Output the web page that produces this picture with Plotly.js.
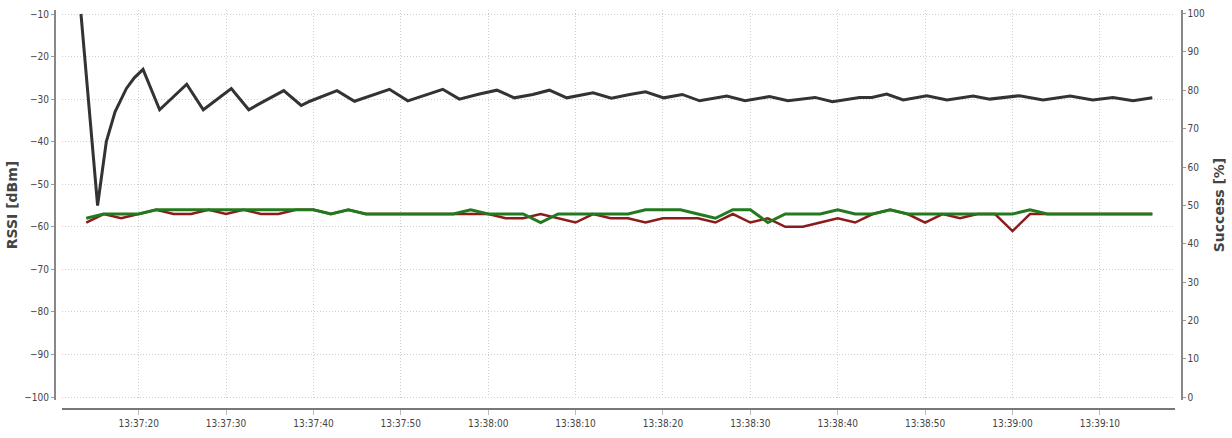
<!DOCTYPE html>
<html>
<head>
<meta charset="utf-8">
<script src="https://cdn.plot.ly/plotly-3.0.1.min.js"></script>
<style>html,body{margin:0;padding:0;background:#fff;}#chart{width:1232px;height:438px;}</style>
</head>
<body>
<div id="chart"></div>
<script>
// Seconds after 13:37:00
const rssiSec = [13.4,15.3,16.3,17.3,18.6,19.5,20.5,22.4,25.5,27.4,30.6,32.6,33.9,36.6,38.6,39.6,42.7,44.7,48.7,50.8,54.8,56.7,59,61,63,65.1,67,69,72,74.1,76.2,78,80.1,82.2,84.2,87.3,89.4,92.2,94.3,95.7,97.4,99.4,102.5,103.9,105.6,107.5,110.2,112.5,115.5,117.4,120.8,123.5,126.6,129.2,131.5,133.8,136];
const rssiBlack = [-10,-55,-40,-33,-27.5,-25,-23,-32.5,-26.5,-32.5,-27.5,-32.5,-31,-28,-31.5,-30.5,-28,-30.5,-27.7,-30.4,-27.7,-30,-28.8,-27.9,-29.7,-28.9,-27.9,-29.7,-28.5,-29.8,-28.9,-28.3,-29.7,-28.9,-30.4,-29.3,-30.4,-29.4,-30.4,-30,-29.6,-30.6,-29.6,-29.6,-28.8,-30.2,-29.2,-30.2,-29.3,-30,-29.2,-30.2,-29.3,-30.2,-29.6,-30.4,-29.7];

const pairSec = [14,16,18,20,22,24,26,28,30,32,34,36,38,40,42,44,46,48,50,52,54,56,58,60,62,64,66,68,70,72,74,76,78,80,82,84,86,88,90,92,94,96,98,100,102,104,106,108,110,112,114,116,118,120,122,124,126,128,130,132,134,136];
const greenVals = [-58,-57,-57,-57,-56,-56,-56,-56,-56,-56,-56,-56,-56,-56,-57,-56,-57,-57,-57,-57,-57,-57,-56,-57,-57,-57,-59,-57,-57,-57,-57,-57,-56,-56,-56,-57,-58,-56,-56,-59,-57,-57,-57,-56,-57,-57,-56,-57,-57,-57,-57,-57,-57,-57,-56,-57,-57,-57,-57,-57,-57,-57];
const redVals = [-59,-57,-58,-57,-56,-57,-57,-56,-57,-56,-57,-57,-56,-56,-57,-56,-57,-57,-57,-57,-57,-57,-57,-57,-58,-58,-57,-58,-59,-57,-58,-58,-59,-58,-58,-58,-59,-57,-59,-58,-60,-60,-59,-58,-59,-57,-56,-57,-59,-57,-58,-57,-57,-61,-57,-57,-57,-57,-57,-57,-57,-57];

const leftTicks = [-100,-90,-80,-70,-60,-50,-40,-30,-20,-10];
const rightTicks = [0,10,20,30,40,50,60,70,80,90,100];
const xTickSec = [20,30,40,50,60,70,80,90,100,110,120,130];
const xTickText = ['13:37:20','13:37:30','13:37:40','13:37:50','13:38:00','13:38:10','13:38:20','13:38:30','13:38:40','13:38:50','13:39:00','13:39:10'];

function toTime(s){
  const m = 37 + Math.floor(s/60);
  const sec = s - Math.floor(s/60)*60;
  const si = Math.floor(sec);
  const frac = Math.round((sec - si)*1000);
  return '2024-01-01 13:' + String(m).padStart(2,'0') + ':' + String(si).padStart(2,'0') + '.' + String(frac).padStart(3,'0');
}

const tickFont = {family:'"Liberation Sans Narrow", "DejaVu Sans Condensed", Arial, sans-serif', size:10, color:'#444'};
const titleFont = {family:'"DejaVu Sans", Verdana, sans-serif', size:14, color:'#444', weight:'bold'};

const traces = [
  {x: pairSec.map(toTime), y: redVals, mode:'lines', line:{color:'#8b1c1c', width:2.5}, xaxis:'x', yaxis:'y', hoverinfo:'skip'},
  {x: pairSec.map(toTime), y: greenVals, mode:'lines', line:{color:'#237a1e', width:3}, xaxis:'x', yaxis:'y', hoverinfo:'skip'},
  {x: rssiSec.map(toTime), y: rssiBlack, mode:'lines', line:{color:'#333333', width:3}, xaxis:'x', yaxis:'y', hoverinfo:'skip'},
  {x: [toTime(20)], y: [50], mode:'lines', xaxis:'x', yaxis:'y2', line:{color:'rgba(0,0,0,0)'}, hoverinfo:'skip'}
];

const layout = {
  width:1232, height:438,
  margin:{l:55, r:51, t:10, b:29},
  paper_bgcolor:'#fff', plot_bgcolor:'#fff',
  showlegend:false,
  xaxis:{
    type:'date',
    domain:[0.006, 0.9947],
    range:[toTime(11.2), toTime(138.6)],
    anchor:'free', position:0,
    tickvals: xTickSec.map(toTime), ticktext: xTickText,
    tickfont: tickFont,
    showgrid:true, gridcolor:'#cfcfcf', griddash:'1px,2px', gridwidth:1,
    showline:true, linecolor:'#777', linewidth:2,
    ticks:'outside', ticklen:5, tickcolor:'#bbb',
    zeroline:false
  },
  yaxis:{
    domain:[0.0226, 1],
    range:[-100.7, -9.06],
    anchor:'free', position:0,
    tickvals: leftTicks,
    tickfont: tickFont,
    showgrid:true, gridcolor:'#cfcfcf', griddash:'1px,2px', gridwidth:1,
    showline:true, linecolor:'#888', linewidth:2,
    ticks:'outside', ticklen:3, tickcolor:'#999',
    zeroline:false,
    title:{text:'RSSI [dBm]', font:titleFont, standoff:2}
  },
  yaxis2:{
    domain:[0.0226, 1],
    range:[-0.70, 100.94],
    overlaying:'y', side:'right',
    anchor:'free', position:1,
    tickvals: rightTicks,
    tickfont: tickFont,
    showgrid:false,
    showline:true, linecolor:'#888', linewidth:1.5,
    ticks:'outside', ticklen:3, tickcolor:'#999',
    zeroline:false,
    title:{text:'Success [%]', font:titleFont, standoff:10}
  }
};

Plotly.newPlot('chart', traces, layout, {staticPlot:true, displayModeBar:false});
</script>
</body>
</html>
